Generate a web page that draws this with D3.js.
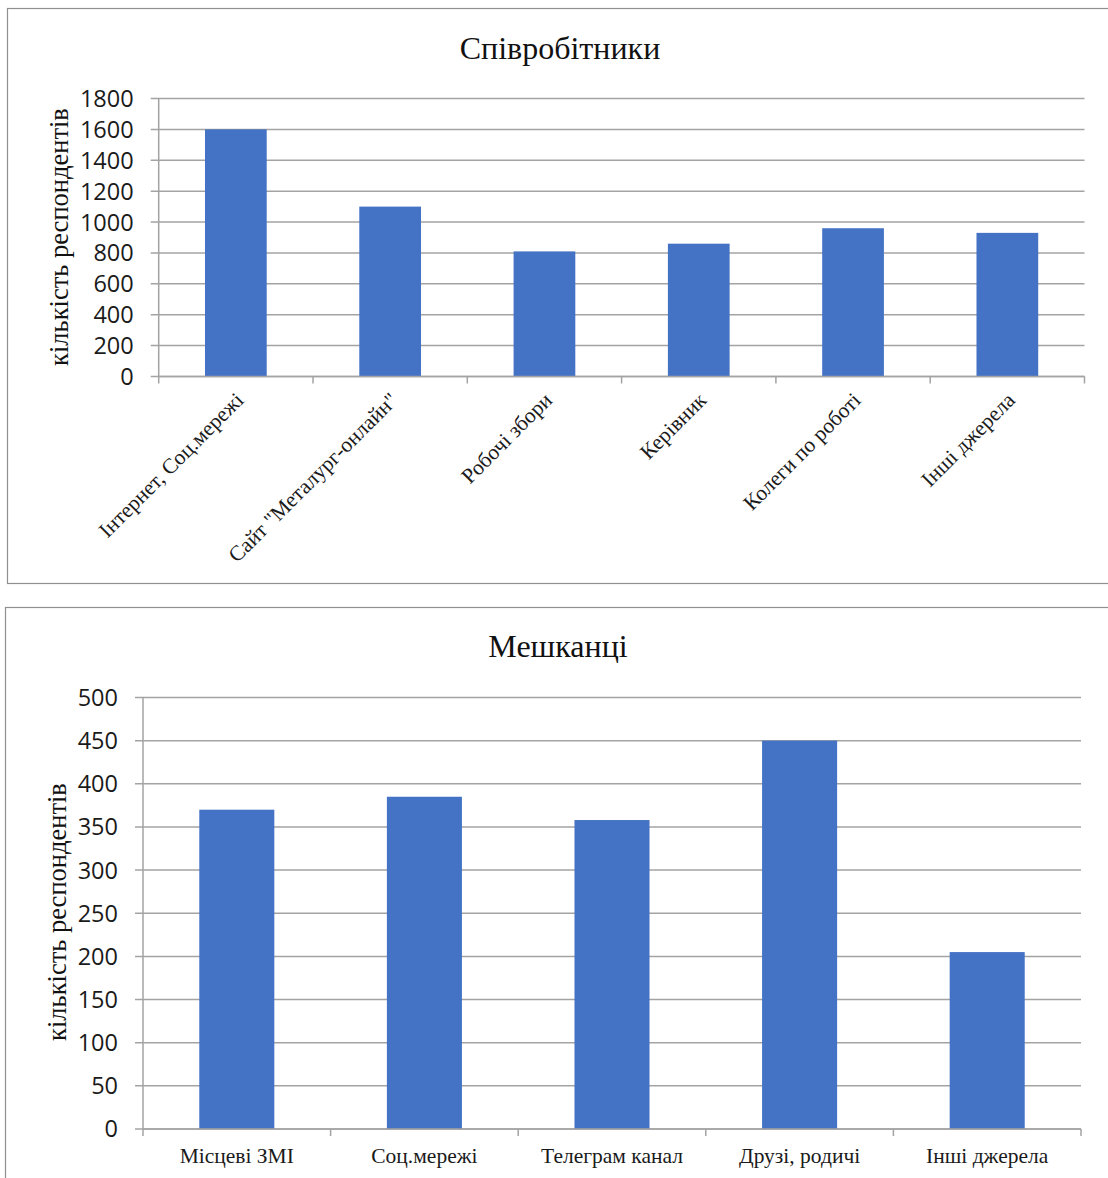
<!DOCTYPE html>
<html lang="uk">
<head>
<meta charset="utf-8">
<title>Джерела інформації</title>
<script src="https://cdn.jsdelivr.net/npm/d3@7/dist/d3.min.js"></script>
<style>
  html, body { margin: 0; padding: 0; background: #ffffff; }
  svg { display: block; }
</style>
</head>
<body>
<svg id="chart" width="1108" height="1178"></svg>
<script>
// Працівники: звідки дізнаються новини підприємства
const staffTitle = "Співробітники";
const staffCategories = [
  "Інтернет, Соц.мережі",
  "Сайт \"Металург-онлайн\"",
  "Робочі збори",
  "Керівник",
  "Колеги по роботі",
  "Інші джерела"
];
const staffValues = [1600, 1100, 810, 860, 960, 930];
const staffTicks = [0, 200, 400, 600, 800, 1000, 1200, 1400, 1600, 1800];

// Мешканці міста
const residentTitle = "Мешканці";
const residentCategories = [
  "Місцеві ЗМІ",
  "Соц.мережі",
  "Телеграм канал",
  "Друзі, родичі",
  "Інші джерела"
];
const residentValues = [370, 385, 358, 450, 205];
const residentTicks = [0, 50, 100, 150, 200, 250, 300, 350, 400, 450, 500];

const axisTitle = "кількість респондентів";

const BAR = "#4472C4";
const GRID = "#a3a3a3";
const FRAME = "#8f8f8f";
const SERIF = "'Liberation Serif', 'Times New Roman', serif";
const SANS = "'Open Sans', 'Noto Sans', sans-serif";

const svg = d3.select("#chart");

function drawChart(opts) {
  const g = svg.append("g");

  // chart frame
  g.append("rect")
    .attr("x", opts.frame[0] + 0.5).attr("y", opts.frame[1] + 0.5)
    .attr("width", opts.frame[2]).attr("height", opts.frame[3])
    .attr("fill", "#ffffff").attr("stroke", FRAME).attr("stroke-width", 1.2);

  const x = d3.scaleBand()
    .domain(opts.categories)
    .range([opts.left, opts.right])
    .paddingInner(0.6)
    .paddingOuter(0.3);

  const y = d3.scaleLinear()
    .domain([0, d3.max(opts.ticks)])
    .range([opts.bottom, opts.top]);

  // horizontal gridlines with outside tick marks
  g.append("g").selectAll("line")
    .data(opts.ticks)
    .join("line")
    .attr("x1", opts.left - 8)
    .attr("x2", opts.right)
    .attr("y1", d => y(d))
    .attr("y2", d => y(d))
    .attr("stroke", GRID)
    .attr("stroke-width", 1.5);

  // vertical axis line
  g.append("line")
    .attr("x1", opts.left).attr("x2", opts.left)
    .attr("y1", y(d3.max(opts.ticks))).attr("y2", opts.bottom)
    .attr("stroke", GRID).attr("stroke-width", 1.5);

  // y tick labels
  g.append("g").selectAll("text")
    .data(opts.ticks)
    .join("text")
    .attr("x", opts.left - 25)
    .attr("y", d => y(d))
    .attr("dy", "0.36em")
    .attr("text-anchor", "end")
    .attr("font-family", SANS)
    .attr("font-size", 23.5)
    .attr("fill", "#1a1a1a")
    .text(d => d);

  // bars
  g.append("g").selectAll("rect")
    .data(opts.values)
    .join("rect")
    .attr("x", (d, i) => x(opts.categories[i]))
    .attr("width", x.bandwidth())
    .attr("y", d => y(d))
    .attr("height", d => y(0) - y(d))
    .attr("fill", BAR);

  // category axis with tick marks between bands
  g.append("line")
    .attr("x1", opts.left).attr("x2", opts.right)
    .attr("y1", opts.bottom).attr("y2", opts.bottom)
    .attr("stroke", GRID).attr("stroke-width", 1.5);

  g.append("g").selectAll("line")
    .data(d3.range(opts.categories.length + 1))
    .join("line")
    .attr("x1", i => opts.left + i * x.step())
    .attr("x2", i => opts.left + i * x.step())
    .attr("y1", opts.bottom)
    .attr("y2", opts.bottom + 7)
    .attr("stroke", GRID).attr("stroke-width", 1.5);

  // category labels
  const labels = g.append("g").selectAll("text")
    .data(opts.categories)
    .join("text")
    .attr("font-family", SERIF)
    .attr("font-size", opts.labelSize)
    .attr("fill", "#1a1a1a")
    .text(d => d);

  if (opts.rotate) {
    labels
      .attr("text-anchor", "end")
      .attr("transform", d => {
        const cx = x(d) + x.bandwidth() / 2 + 9;
        const cy = opts.bottom + 25;
        return `translate(${cx},${cy}) rotate(-45)`;
      });
  } else {
    labels
      .attr("text-anchor", "middle")
      .attr("x", d => x(d) + x.bandwidth() / 2)
      .attr("y", opts.bottom + 34);
  }

  // chart title
  g.append("text")
    .attr("x", opts.titleX)
    .attr("y", opts.titleY)
    .attr("text-anchor", "middle")
    .attr("font-family", SERIF)
    .attr("font-size", 32)
    .attr("fill", "#111111")
    .text(opts.title);

  // value axis title
  g.append("text")
    .attr("transform", `translate(${opts.axisTitleX},${opts.axisTitleY}) rotate(-90)`)
    .attr("text-anchor", "middle")
    .attr("font-family", SERIF)
    .attr("font-size", 26.5)
    .attr("fill", "#111111")
    .text(axisTitle);
}

drawChart({
  frame: [7, 8, 1110, 575],
  title: staffTitle,
  categories: staffCategories,
  values: staffValues,
  ticks: staffTicks,
  left: 158.7, right: 1084.5, top: 98.5, bottom: 376.5,
  rotate: true,
  labelSize: 21.5,
  titleX: 560, titleY: 59,
  axisTitleX: 68, axisTitleY: 237
});

drawChart({
  frame: [5, 607, 1110, 600],
  title: residentTitle,
  categories: residentCategories,
  values: residentValues,
  ticks: residentTicks,
  left: 143, right: 1081, top: 697.5, bottom: 1129,
  rotate: false,
  labelSize: 21.5,
  titleX: 558, titleY: 657,
  axisTitleX: 66, axisTitleY: 912
});
</script>
</body>
</html>
